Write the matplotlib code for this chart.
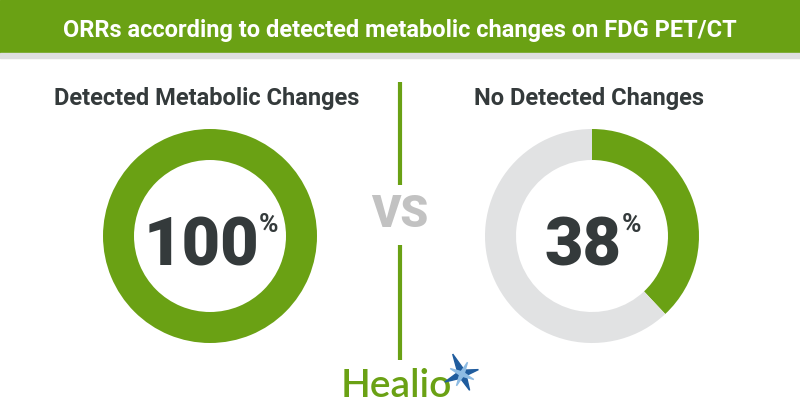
import matplotlib
matplotlib.use("Agg")
import matplotlib.pyplot as plt
from matplotlib.patches import Rectangle, Polygon
import numpy as np

# data
title = "ORRs according to detected metabolic changes on FDG PET/CT"
groups = ["Detected Metabolic Changes", "No Detected Changes"]
orr = [100, 38]          # percent
centers_x = [210, 592]   # px

green = "#6aa114"
grey_ring = "#e1e2e3"
dark = "#343a3b"

H = 420
fig = plt.figure(figsize=(8, 4.2), dpi=100)
ax = fig.add_axes([0, 0, 1, 1])

def Y(py):
	# pixel row from top -> data y
	return H - py

# donuts
for cx, val in zip(centers_x, orr):
	vals = [val, 100 - val] if val < 100 else [val]
	cols = [green, grey_ring][:len(vals)]
	ax.pie(vals, colors=cols, startangle=90, counterclock=False,
		   center=(cx, Y(236)), radius=107,
		   wedgeprops=dict(width=31, linewidth=0))

ax.set_xlim(0, 800)
ax.set_ylim(0, H)
ax.set_aspect("auto")
ax.axis("off")

# header banner
ax.add_patch(Rectangle((0, Y(53)), 800, 53, color=green, zorder=3))
ax.add_patch(Rectangle((0, Y(58)), 800, 5, color="#dedfe0", zorder=3))
ax.text(400, Y(30), title, ha="center", va="center", color="white",
		fontsize=17, fontweight="bold", family="Roboto", zorder=4)

# group headings
for cx, g in zip(centers_x, groups):
	ax.text(cx - 3, Y(98), g, ha="center", va="center", color=dark,
			fontsize=17, fontweight="bold", family="Roboto")

# big numbers with superscript %
fig.canvas.draw()
r = fig.canvas.get_renderer()
for cx, val in zip(centers_x, orr):
	num = ax.text(0, Y(265), str(val), ha="left", va="baseline", color=dark,
				  fontsize=48, fontweight="black", family="Roboto")
	pct = ax.text(0, Y(213), "%", ha="left", va="top", color=dark,
				  fontsize=19, fontweight="bold", family="Roboto")
	wn = num.get_window_extent(r).width
	wp = pct.get_window_extent(r).width
	gap = 0
	x0 = cx + 1 - (wn + gap + wp) / 2
	num.set_x(x0)
	pct.set_x(x0 + wn + gap)

# divider + VS
ax.plot([400, 400], [Y(82), Y(185)], color=green, lw=3, solid_capstyle="butt")
ax.plot([400, 400], [Y(245), Y(360)], color=green, lw=3, solid_capstyle="butt")
ax.text(400, Y(215), "VS", ha="center", va="center", color="#c2c2c2",
		fontsize=32, fontweight="black", family="Roboto")

# Healio logo
ax.text(341, Y(386), "Healio", ha="left", va="center", color=green,
		fontsize=28, fontweight="semibold", family="Lato")
sx, sy = 462, Y(374)
ang = np.deg2rad([115, 205, 295, 15])
lens = [22, 19, 18, 17]
pts = []
for a, L in zip(ang, lens):
	pts.append((sx + L * np.cos(a), sy + L * np.sin(a)))
	pts.append((sx + 4.5 * np.cos(a + np.pi / 4), sy + 4.5 * np.sin(a + np.pi / 4)))
ax.add_patch(Polygon(pts, closed=True, color="#1f5c9e", zorder=5))
ang2 = np.deg2rad([65, 155, 245, 335])
pts2 = []
for a in ang2:
	pts2.append((sx + 13 * np.cos(a), sy + 13 * np.sin(a)))
	pts2.append((sx + 2.5 * np.cos(a + np.pi / 4), sy + 2.5 * np.sin(a + np.pi / 4)))
ax.add_patch(Polygon(pts2, closed=True, color="#8dbbe3", zorder=6))

fig.savefig("out.png", dpi=100)
